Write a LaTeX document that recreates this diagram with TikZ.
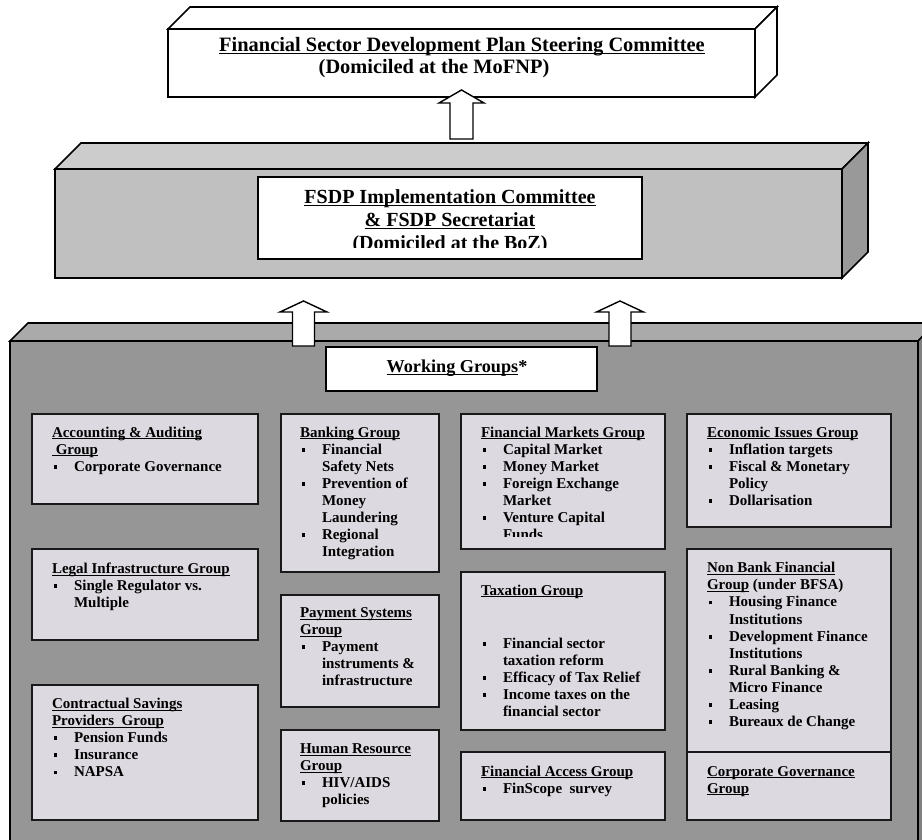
\documentclass[tikz,border=0pt]{standalone}
\usepackage{fontspec}
\setmainfont{Liberation Serif}

\definecolor{grpfill}{RGB}{220,217,224}
\definecolor{wgfront}{RGB}{150,150,150}
\definecolor{wgtop}{RGB}{170,170,170}
\definecolor{wgside}{RGB}{128,128,128}
\definecolor{midfront}{RGB}{192,192,192}
\definecolor{midtop}{RGB}{204,204,204}
\definecolor{midside}{RGB}{153,153,153}

% underline that sits just below the baseline
\newcommand\ul[1]{\underline{\smash{#1}}}
% square bullet and hanging indent for list items
\newcommand\sqb{\makebox[22pt][l]{\hspace{1.5pt}\rule[2.6pt]{3.6pt}{3.6pt}}}
\newcommand\ind{\hspace*{22pt}}
% a left-aligned block whose reference point is the first baseline
\newcommand\blk[1]{\begin{tabular}[t]{@{}l@{}}#1\end{tabular}}
% white block arrow pointing up: tail, stem half width, stem length, head overhang, head height
\newcommand\blockarrow[5]{%
  \draw[blockarrow] (#1) ++(-#2,0) -- ++(0,-#3) -- ++(-#4,0) -- ++(#2+#4,-#5)
    -- ++(#2+#4,#5) -- ++(-#4,0) -- ++(0,#3) -- cycle;}

\begin{document}
\begin{tikzpicture}[x=1pt,y=-1pt,
  face/.style={draw=black,line width=1.6pt,line join=miter,inner sep=0pt,outer sep=0pt},
  front/.style={face,anchor=north west},
  grp/.style={draw=black!90,line width=1.8pt,fill=grpfill,anchor=north west,inner sep=0pt,outer sep=0pt},
  gtext/.style={anchor=base west,inner sep=0pt,outer sep=0pt,font=\fontsize{15}{17.1}\selectfont\bfseries},
  big/.style={anchor=base,inner sep=0pt,outer sep=0pt,font=\fontsize{20}{22.5}\selectfont\bfseries},
  blockarrow/.style={draw=black,line width=1.4pt,fill=white,line join=miter}]

\useasboundingbox (0,0) rectangle (922,840);
\clip (0,0) rectangle (922,840);
\fill[white] (0,0) rectangle (922,840);

% ---- working groups block (runs past the page edge) ----
\node[front,fill=wgfront,minimum width=908,minimum height=560] (wg) at (10,341) {};
\draw[face,fill=wgtop] (wg.north west) -- ++(18,-18) -- ++(908,0) -- (wg.north east) -- cycle;
\draw[face,fill=wgside] (wg.north east) -- ++(18,-18) -- ++(0,560) -- (wg.south east) -- cycle;

% ---- implementation committee block ----
\node[front,fill=midfront,minimum width=787,minimum height=109] (mid) at (55,169) {};
\draw[face,fill=midtop] (mid.north west) -- ++(26,-26) -- ++(787,0) -- (mid.north east) -- cycle;
\draw[face,fill=midside] (mid.north east) -- ++(26,-26) -- ++(0,109) -- (mid.south east) -- cycle;

\node[front,fill=white,minimum width=384,minimum height=82] (fsdp) at (258,177) {};
\begin{scope}
  \clip (258,177) rectangle (642,247.5);
  \node[big] (fsdp1) at (450,204) {\ul{FSDP Implementation Committee}};
  \node[big] (fsdp2) at (450,226.7) {\ul{\& FSDP Secretariat}};
  \node[big] (fsdp3) at (450,250) {(Domiciled at the BoZ)};
\end{scope}

% ---- steering committee block ----
\node[front,fill=white,minimum width=587,minimum height=68] (top) at (168,29) {};
\draw[face,fill=white] (top.north west) -- ++(22,-22) -- ++(587,0) -- (top.north east) -- cycle;
\draw[face,fill=white] (top.north east) -- ++(22,-22) -- ++(0,68) -- (top.south east) -- cycle;
\node[big,font=\fontsize{20.4}{23}\selectfont\bfseries] (top1) at (462,51.7)
  {\ul{Financial Sector Development Plan Steering Committee}};
\node[big,font=\fontsize{20.4}{23}\selectfont\bfseries] (top2) at (434,74)
  {(Domiciled at the MoFNP)};

% ---- block arrows ----
\coordinate (tailA) at (461.5,139);
\coordinate (tailB) at (303.5,346);
\coordinate (tailC) at (620,346);
\blockarrow{tailA}{11.5}{36}{11}{13}
\blockarrow{tailB}{11}{34}{12.5}{11}
\blockarrow{tailC}{11}{34}{12.5}{11}

% ---- working groups heading ----
\node[front,fill=white,minimum width=271,minimum height=44] (wgt) at (326,347) {};
\node[big,font=\fontsize{18.2}{21}\selectfont\bfseries] (wgt1) at (457,372.5) {\ul{Working Groups}*};

% ---- group boxes ----
\node[grp,minimum width=226,minimum height=90]  (acc)   at (32,414)  {};
\node[grp,minimum width=226,minimum height=91]  (legal) at (32,549)  {};
\node[grp,minimum width=226,minimum height=135] (contr) at (32,685)  {};
\node[grp,minimum width=158,minimum height=158] (bank)  at (281,414) {};
\node[grp,minimum width=158,minimum height=112] (pay)   at (281,595) {};
\node[grp,minimum width=158,minimum height=91]  (hr)    at (281,730) {};
\node[grp,minimum width=204,minimum height=135] (fm)    at (461,414) {};
\node[grp,minimum width=204,minimum height=158] (tax)   at (461,572) {};
\node[grp,minimum width=204,minimum height=68]  (fa)    at (461,752) {};
\node[grp,minimum width=204,minimum height=113] (econ)  at (687,414) {};
\node[grp,minimum width=204,minimum height=203] (nb)    at (687,549) {};
\node[grp,minimum width=204,minimum height=68]  (cg)    at (687,752) {};

% ---- group texts ----
\node[gtext] (acc-t) at (52,437) {\blk{\ul{Accounting \& Auditing}\\
  \ul{\ Group}\\ \sqb Corporate Governance}};
\node[gtext] (legal-t) at (52,573.3) {\blk{\ul{Legal Infrastructure Group}\\
  \sqb Single Regulator vs.\\ \ind Multiple}};
\node[gtext] (contr-t) at (52,708.3) {\blk{\ul{Contractual Savings}\\
  \ul{Providers\ \ Group}\\ \sqb Pension Funds\\ \sqb Insurance\\ \sqb NAPSA}};

\node[gtext] (bank-t) at (300,437) {\blk{\ul{Banking Group}\\
  \sqb Financial\\ \ind Safety Nets\\ \sqb Prevention of\\ \ind Money\\
  \ind Laundering\\ \sqb Regional\\ \ind Integration}};
\node[gtext] (pay-t) at (300,617.3) {\blk{\ul{Payment Systems}\\ \ul{Group}\\
  \sqb Payment\\ \ind instruments \&\\ \ind infrastructure}};
\node[gtext] (hr-t) at (300,753.3) {\blk{\ul{Human Resource}\\ \ul{Group}\\
  \sqb HIV/AIDS\\ \ind policies}};

\begin{scope}
  \clip (461,414) rectangle (665,536.5);
  \node[gtext] (fm-t) at (481,437) {\blk{\ul{Financial Markets Group}\\
    \sqb Capital Market\\ \sqb Money Market\\ \sqb Foreign Exchange\\
    \ind Market\\ \sqb Venture Capital\\ \ind Funds}};
\end{scope}
\node[gtext] (tax-t) at (481,595) {\blk{\ul{Taxation Group}\\ \\ \\[2pt]
  \sqb Financial sector\\ \ind taxation reform\\ \sqb Efficacy of Tax Relief\\
  \sqb Income taxes on the\\ \ind financial sector}};
\node[gtext] (fa-t) at (481,776) {\blk{\ul{Financial Access Group}\\
  \sqb FinScope\ \ survey}};

\node[gtext] (econ-t) at (707,437) {\blk{\ul{Economic Issues Group}\\
  \sqb Inflation targets\\ \sqb Fiscal \& Monetary\\ \ind Policy\\ \sqb Dollarisation}};
\node[gtext] (nb-t) at (707,572.7) {\blk{\ul{Non Bank Financial}\\
  \ul{Group} (under BFSA)\\ \sqb Housing Finance\\ \ind Institutions\\
  \sqb Development Finance\\ \ind Institutions\\ \sqb Rural Banking \&\\
  \ind Micro Finance\\ \sqb Leasing\\ \sqb Bureaux de Change}};
\node[gtext] (cg-t) at (707,776) {\blk{\ul{Corporate Governance}\\ \ul{Group}}};

\end{tikzpicture}
\end{document}
